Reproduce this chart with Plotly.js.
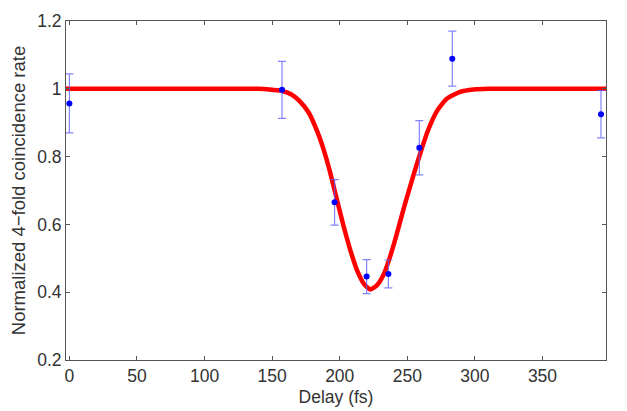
<!DOCTYPE html>
<html>
<head>
<meta charset="utf-8">
<script src="https://cdn.plot.ly/plotly-3.0.1.min.js"></script>
<style>html,body{margin:0;padding:0;background:#fff;}#chart{width:627px;height:411px;}</style>
</head>
<body>
<div id="chart"></div>
<script>
// Measured data points
const delay = [0, 157.3, 196.2, 219.9, 236, 258.9, 283.3, 393.3];
const rate = [0.957, 0.997, 0.665, 0.446, 0.454, 0.826, 1.089, 0.925];
const rateErr = [0.087, 0.084, 0.067, 0.05, 0.041, 0.08, 0.081, 0.07];

// Fit curve
const fitDelay = [-3, 50, 100, 140, 148, 157, 164, 170, 177, 184, 188, 193, 198, 203, 208, 213, 218, 222.5, 227.5, 232.5, 237.5, 242.5, 247, 252, 257, 260.5, 265, 272, 279, 289, 299, 310, 350, 397];
const fitRate = [1.0, 1.0, 1.0, 1.0, 0.998, 0.994, 0.984, 0.965, 0.930, 0.868, 0.822, 0.752, 0.672, 0.593, 0.522, 0.463, 0.424, 0.408, 0.420, 0.452, 0.508, 0.576, 0.642, 0.711, 0.777, 0.821, 0.874, 0.935, 0.970, 0.991, 0.998, 1.0, 1.0, 1.0];

const xTicks = [0, 50, 100, 150, 200, 250, 300, 350];
const yTicks = [0.2, 0.4, 0.6, 0.8, 1, 1.2];
const yTickText = ['0.2', '0.4', '0.6', '0.8', '1', '1.2'];

const font = 'Liberation Sans, Arial, Helvetica, sans-serif';

const traces = [
  {
    x: fitDelay, y: fitRate, type: 'scatter', mode: 'lines',
    line: {color: '#ff0000', width: 4.5, shape: 'spline', smoothing: 0.5},
    hoverinfo: 'skip'
  },
  {
    x: delay, y: rate, type: 'scatter', mode: 'markers',
    marker: {color: '#0000ff', size: 6},
    error_y: {type: 'data', array: rateErr, visible: true, color: 'rgba(90,90,255,0.75)', thickness: 1.2, width: 4}
  }
];

const axisCommon = {
  showgrid: false, zeroline: false, showline: true, mirror: 'ticks',
  linecolor: '#555', linewidth: 1, ticks: 'inside', ticklen: 4, tickcolor: '#555', tickwidth: 1,
  tickfont: {family: font, size: 17.5, color: '#333'}
};

const layout = {
  width: 627, height: 411,
  margin: {l: 66, r: 21, t: 21, b: 51},
  paper_bgcolor: '#fff', plot_bgcolor: '#fff',
  showlegend: false,
  xaxis: Object.assign({}, axisCommon, {
    range: [-2.5, 397], tickvals: xTicks,
    title: {text: 'Delay (fs)', standoff: 5, font: {family: font, size: 17.5, color: '#333'}}
  }),
  yaxis: Object.assign({}, axisCommon, {
    range: [0.2, 1.2], tickvals: yTicks, ticktext: yTickText,
    title: {text: 'Normalized 4\u2212fold coincidence rate', standoff: 6, font: {family: font, size: 18.5, color: '#333'}}
  })
};

Plotly.newPlot('chart', traces, layout, {displayModeBar: false, staticPlot: true});
</script>
</body>
</html>
